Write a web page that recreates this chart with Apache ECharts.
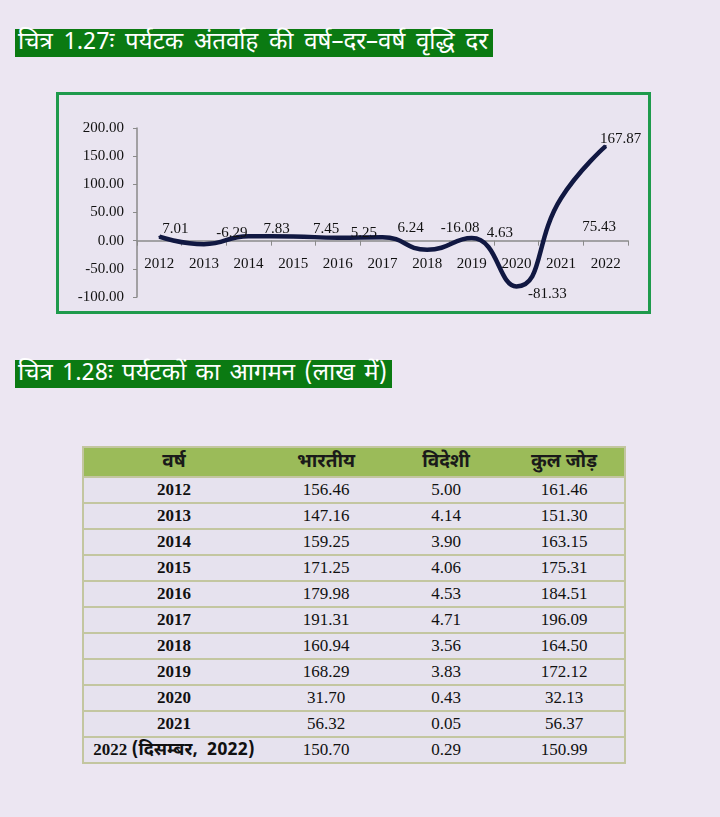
<!DOCTYPE html>
<html>
<head>
<meta charset="utf-8">
<script src="https://cdn.jsdelivr.net/npm/echarts@6/dist/echarts.min.js"></script>
<style>
  html, body { margin: 0; padding: 0; }
  body { width: 720px; height: 817px; background: #ece6f2; position: relative; overflow: hidden; font-family: "Noto Sans Devanagari", "Noto Sans", "DejaVu Sans", sans-serif; }
  .title { position: absolute; left: 15px; background: #0b7a12; color: #fff; font-size: 24px; line-height: 28px; height: 28px; padding: 0 3px; white-space: nowrap; box-sizing: border-box; overflow: visible; }
  .title span { display: inline-block; }
  #t1 { top: 29px; width: 478px; }
  #t2 { top: 360px; width: 377px; }
  #chartBox { position: absolute; left: 56px; top: 92px; width: 595px; height: 222px; box-sizing: border-box; border: 3px solid #1e9a4c; background: #e9e4f0; }
  #chart { width: 589px; height: 216px; }
  table { position: absolute; left: 82px; top: 446px; width: 544px; border-collapse: collapse; background: #e6e2ee; border: 2px solid #c3c6a0; }
  th { background: #9bbb59; height: 28px; font-size: 19px; font-weight: bold; color: #1a1a1a; padding: 0; }
  td { height: 24px; padding: 0; border-top: 2px solid #c3c6a0; font-family: "Liberation Serif", "Times New Roman", serif; font-size: 17px; color: #111; text-align: center; }
  td.yr { font-weight: bold; white-space: pre; }
  td.yr span.dev { font-family: "Noto Sans Devanagari", "Noto Sans", sans-serif; font-size: 18px; }
</style>
</head>
<body>
<div class="title" id="t1"><span>चित्र 1.27ः पर्यटक अंतर्वाह की वर्ष–दर–वर्ष वृद्धि दर</span></div>
<div id="chartBox"><div id="chart"></div></div>
<div class="title" id="t2"><span>चित्र 1.28ः पर्यटकों का आगमन (लाख में)</span></div>
<table id="tbl"></table>
<script>
// ---- data ----
const years = ['2012','2013','2014','2015','2016','2017','2018','2019','2020','2021','2022'];
const growth = [7.01, -6.29, 7.83, 7.45, 5.25, 6.24, -16.08, 4.63, -81.33, 75.43, 167.87];
const yTicks = [-100, -50, 0, 50, 100, 150, 200];

const tableHead = ['वर्ष', 'भारतीय', 'विदेशी', 'कुल जोड़'];
const tableYears = ['2012','2013','2014','2015','2016','2017','2018','2019','2020','2021','2022 (दिसम्बर,  2022)'];
const indian = [156.46, 147.16, 159.25, 171.25, 179.98, 191.31, 160.94, 168.29, 31.70, 56.32, 150.70];
const foreign = [5.00, 4.14, 3.90, 4.06, 4.53, 4.71, 3.56, 3.83, 0.43, 0.05, 0.29];
const total = [161.46, 151.30, 163.15, 175.31, 184.51, 196.09, 164.50, 172.12, 32.13, 56.37, 150.99];

// ---- stretch titles to their boxes via word spacing ----
document.querySelectorAll('.title').forEach(div => {
  const span = div.querySelector('span');
  const target = div.clientWidth - 8;
  const w = span.getBoundingClientRect().width;
  const spaces = (span.textContent.match(/ /g) || []).length;
  if (spaces) span.style.wordSpacing = ((target - w) / spaces) + 'px';
});

// ---- label placement tweaks (style only) ----
const labelTweak = {
  '2012': { position: 'top', offset: [16, 6] },
  '2013': { position: 'top', offset: [28, 2] },
  '2014': { position: 'top', offset: [28, 6] },
  '2015': { position: 'top', offset: [33, 6] },
  '2016': { position: 'top', offset: [26, 9] },
  '2017': { position: 'top', offset: [28, 4] },
  '2018': { position: 'top', offset: [33, -8] },
  '2019': { position: 'top', offset: [28, 9] },
  '2020': { position: 'bottom', offset: [31, -6] },
  '2021': { position: 'bottom', offset: [38, 15] },
  '2022': { position: 'top', offset: [15, 6] }
};

const seriesData = growth.map((v, i) => {
  const t = labelTweak[years[i]];
  const item = { value: v };
  if (t) item.label = { position: t.position, offset: t.offset };
  return item;
});

const gridTop = 33, gridBottom = 14, chartH = 216;
const yMin = yTicks[0], yMax = yTicks[yTicks.length - 1];
// place the category axis on the zero line
const zeroOffset = -(chartH - gridTop - gridBottom) * (0 - yMin) / (yMax - yMin);

const chart = echarts.init(document.getElementById('chart'), null, { renderer: 'canvas' });
const serif = '"Liberation Serif", "Times New Roman", serif';
chart.setOption({
  animation: false,
  grid: { left: 78, right: 20, top: gridTop, bottom: gridBottom, containLabel: false, outerBoundsMode: 'none' },
  xAxis: {
    type: 'category',
    data: years,
    boundaryGap: true,
    position: 'bottom',
    offset: zeroOffset,
    axisLine: { show: true, onZero: false, lineStyle: { color: '#8a8a8a', width: 1.5 } },
    axisTick: { show: true, inside: false, length: 5, lineStyle: { color: '#8a8a8a' } },
    axisLabel: { margin: 16, color: '#111', fontFamily: serif, fontSize: 15 }
  },
  yAxis: {
    type: 'value',
    min: yMin,
    max: yMax,
    interval: 50,
    axisLine: { show: true, lineStyle: { color: '#8a8a8a', width: 1.5 } },
    axisTick: { show: true, length: 4, lineStyle: { color: '#8a8a8a' } },
    splitLine: { show: false },
    axisLabel: { margin: 13, color: '#111', fontFamily: serif, fontSize: 15, formatter: v => v.toFixed(2) }
  },
  series: [{
    type: 'line',
    data: seriesData,
    smooth: 0.5,
    symbol: 'circle',
    symbolSize: 2,
    showSymbol: true,
    itemStyle: { color: '#111842' },
    lineStyle: { color: '#111842', width: 4.5 },
    label: {
      show: true,
      position: 'top',
      offset: [28, 6],
      color: '#111',
      fontFamily: serif,
      fontSize: 15,
      formatter: p => p.value.toFixed(2)
    }
  }]
});

// ---- table ----
const tbl = document.getElementById('tbl');
let html = '<tr>' + tableHead.map(h => '<th>' + h + '</th>').join('') + '</tr>';
tableYears.forEach((y, i) => {
  const yr = y.replace(/\(([^)]*)\)/, '<span class="dev">($1)</span>');
  html += '<tr><td class="yr" style="width:180px">' + yr + '</td>' +
    '<td style="width:124px">' + indian[i].toFixed(2) + '</td>' +
    '<td style="width:116px">' + foreign[i].toFixed(2) + '</td>' +
    '<td>' + total[i].toFixed(2) + '</td></tr>';
});
tbl.innerHTML = html;
</script>
</body>
</html>
